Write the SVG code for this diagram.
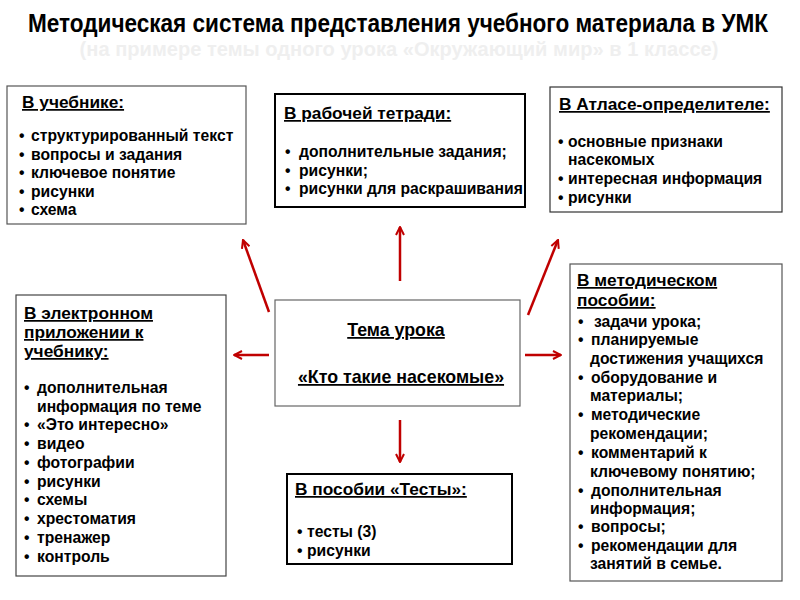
<svg xmlns="http://www.w3.org/2000/svg" width="800" height="600" viewBox="0 0 800 600">
<style>
.t{font-family:"Liberation Sans",Arial,sans-serif;font-weight:bold;font-size:15.7px;fill:#000}
.h{text-decoration:underline;font-size:17.3px}
.c{font-size:17.8px}
.box{fill:#fff;stroke:#555;stroke-width:1.2}
.boxk{fill:#fff;stroke:#000;stroke-width:2}
.arr{stroke:#c00000;stroke-width:2.5;fill:none;marker-end:url(#ah)}
.title{font-family:"Liberation Sans",Arial,sans-serif;font-weight:bold;font-size:25px}
</style>
<defs>
<marker id="ah" viewBox="0 0 10 10" refX="9" refY="5" markerWidth="4" markerHeight="4" orient="auto" markerUnits="strokeWidth">
<path d="M1,1 L9,5 L1,9" fill="none" stroke="#c00000" stroke-width="2"/>
</marker>
</defs>
<rect width="800" height="600" fill="#fff"/>
<text class="title" transform="translate(398,32) scale(0.903,1)" text-anchor="middle" fill="#000">Методическая система представления учебного материала в УМК</text>
<text class="title" transform="translate(399,56) scale(0.957,1)" text-anchor="middle" fill="#efefef" style="font-size:21px">(на примере темы одного урока «Окружающий мир» в 1 классе)</text>

<g id="connectors">
<line class="arr" x1="269" y1="312" x2="243" y2="240"/>
<line class="arr" x1="400" y1="281" x2="400" y2="227"/>
<line class="arr" x1="528" y1="315" x2="558" y2="240"/>
<line class="arr" x1="269" y1="355" x2="234" y2="355"/>
<line class="arr" x1="525" y1="355" x2="561" y2="355"/>
<line class="arr" x1="400" y1="420" x2="400" y2="462"/>
</g>

<g id="uchebnik">
<rect class="box" x="7" y="86" width="239" height="138"/>
<text class="t h" x="22" y="108">В учебнике:</text>
<text class="t" x="19" y="141">•</text><text class="t" x="31" y="141">структурированный текст</text>
<text class="t" x="19" y="160">•</text><text class="t" x="31" y="160">вопросы и задания</text>
<text class="t" x="19" y="178">•</text><text class="t" x="31" y="178">ключевое понятие</text>
<text class="t" x="19" y="197">•</text><text class="t" x="31" y="197">рисунки</text>
<text class="t" x="19" y="215">•</text><text class="t" x="31" y="215">схема</text>
</g>

<g id="tetrad">
<rect class="boxk" x="275" y="94" width="250" height="113"/>
<text class="t h" x="284" y="119">В рабочей тетради:</text>
<text class="t" x="285" y="157">•</text><text class="t" x="299" y="157">дополнительные задания;</text>
<text class="t" x="285" y="176">•</text><text class="t" x="299" y="176">рисунки;</text>
<text class="t" x="285" y="194">•</text><text class="t" x="299" y="194">рисунки для раскрашивания</text>
</g>

<g id="atlas">
<rect class="box" x="550" y="87" width="232" height="125" style="stroke:#333"/>
<text class="t h" x="559" y="110">В Атласе-определителе:</text>
<text class="t" x="558" y="147">•</text><text class="t" x="568" y="147">основные признаки</text>
<text class="t" x="568" y="165">насекомых</text>
<text class="t" x="558" y="184">•</text><text class="t" x="568" y="184">интересная информация</text>
<text class="t" x="558" y="203">•</text><text class="t" x="568" y="203">рисунки</text>
</g>

<g id="elektron">
<rect class="box" x="16" y="295" width="210" height="281" style="stroke:#444"/>
<text class="t h" x="24" y="319">В электронном</text>
<text class="t h" x="24" y="338">приложении к</text>
<text class="t h" x="24" y="357">учебнику:</text>
<text class="t" x="24" y="393">•</text><text class="t" x="37" y="393">дополнительная</text>
<text class="t" x="37" y="412">информация по теме</text>
<text class="t" x="24" y="430">•</text><text class="t" x="37" y="430">«Это интересно»</text>
<text class="t" x="24" y="449">•</text><text class="t" x="37" y="449">видео</text>
<text class="t" x="24" y="468">•</text><text class="t" x="37" y="468">фотографии</text>
<text class="t" x="24" y="487">•</text><text class="t" x="37" y="487">рисунки</text>
<text class="t" x="24" y="505">•</text><text class="t" x="37" y="505">схемы</text>
<text class="t" x="24" y="524">•</text><text class="t" x="37" y="524">хрестоматия</text>
<text class="t" x="24" y="543">•</text><text class="t" x="37" y="543">тренажер</text>
<text class="t" x="24" y="562">•</text><text class="t" x="37" y="562">контроль</text>
</g>

<g id="metod">
<rect class="box" x="570" y="264" width="212" height="317"/>
<text class="t h" x="577" y="286">В методическом</text>
<text class="t h" x="577" y="306">пособии:</text>
<text class="t" x="578" y="327">•</text><text class="t" x="594" y="327">задачи урока;</text>
<text class="t" x="578" y="345">•</text><text class="t" x="591" y="345">планируемые</text>
<text class="t" x="590" y="364">достижения учащихся</text>
<text class="t" x="578" y="383">•</text><text class="t" x="591" y="383">оборудование и</text>
<text class="t" x="590" y="401">материалы;</text>
<text class="t" x="578" y="420">•</text><text class="t" x="591" y="420">методические</text>
<text class="t" x="590" y="439">рекомендации;</text>
<text class="t" x="578" y="458">•</text><text class="t" x="591" y="458">комментарий к</text>
<text class="t" x="590" y="477">ключевому понятию;</text>
<text class="t" x="578" y="496">•</text><text class="t" x="591" y="496">дополнительная</text>
<text class="t" x="590" y="514">информация;</text>
<text class="t" x="578" y="532">•</text><text class="t" x="591" y="532">вопросы;</text>
<text class="t" x="578" y="551">•</text><text class="t" x="591" y="551">рекомендации для</text>
<text class="t" x="590" y="569">занятий в семье.</text>
</g>

<g id="tema">
<rect class="box" x="275" y="300" width="245" height="106" style="stroke:#666"/>
<text class="t h c" x="396" y="336" text-anchor="middle">Тема урока</text>
<text class="t h c" x="401" y="383" text-anchor="middle">«Кто такие насекомые»</text>
</g>

<g id="testy">
<rect class="boxk" x="287" y="474" width="225" height="90"/>
<text class="t h" x="295" y="495">В пособии «Тесты»:</text>
<text class="t" x="297" y="537">•</text><text class="t" x="307" y="537">тесты (3)</text>
<text class="t" x="297" y="556">•</text><text class="t" x="307" y="556">рисунки</text>
</g>
</svg>
